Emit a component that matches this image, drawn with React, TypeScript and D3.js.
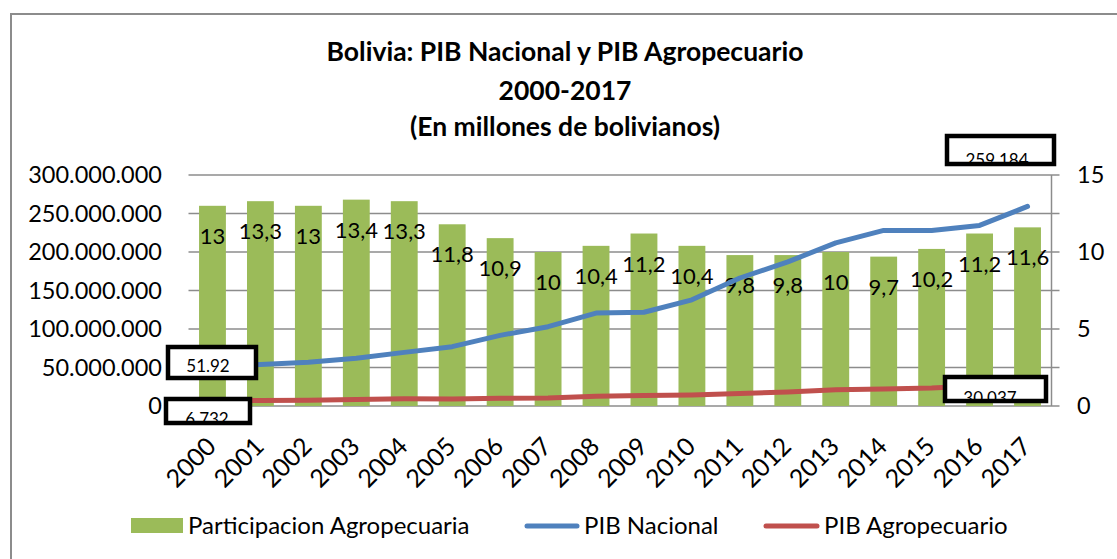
import * as d3 from 'd3';

const years = ['2000', '2001', '2002', '2003', '2004', '2005', '2006', '2007', '2008', '2009', '2010', '2011', '2012', '2013', '2014', '2015', '2016', '2017'];
// participacion agropecuaria, % (right axis)
const participacion = [13, 13.3, 13, 13.4, 13.3, 11.8, 10.9, 10, 10.4, 11.2, 10.4, 9.8, 9.8, 10, 9.7, 10.2, 11.2, 11.6];
// miles de bolivianos (left axis)
const pibNacional = [51928000, 53790000, 56682000, 61904000, 69626000, 77024000, 91748000, 103009000, 120694000, 121727000, 137876000, 166232000, 187154000, 211856000, 228004000, 228031000, 234533000, 259184000];
const pibAgro = [6732000, 7150000, 7370000, 8290000, 9260000, 9090000, 10000000, 10300000, 12550000, 13630000, 14340000, 16290000, 18340000, 21190000, 22120000, 23260000, 26270000, 30037000];
const leftTicks = [0, 50000000, 100000000, 150000000, 200000000, 250000000, 300000000];
const rightTicks = [0, 5, 10, 15];
const titleLines = ['Bolivia: PIB Nacional y PIB Agropecuario', '2000-2017', '(En millones de bolivianos)'];
const calloutLabels = ['51.92', '6.732', '259.184', '30.037'];

const W = 1117;
const H = 559;
const FONT = 'Lato, "Open Sans", sans-serif';
const GREEN = '#9bbb59';
const BLUE = '#4f81bd';
const RED = '#c0504d';
const GRID = '#8c8c8c';

const left = 188.5;
const right = 1051.5;
const top = 175;
const bottom = 406;

const App = () => {
  const x = d3.scaleBand().domain(years).range([left, right]).paddingInner(0.44).paddingOuter(0.22);
  const yL = d3.scaleLinear().domain([0, 300000000]).range([bottom, top]);
  const yR = d3.scaleLinear().domain([0, 15]).range([bottom, top]);
  const cx = (d: string) => x(d)! + x.bandwidth() / 2;

  const fmtLeft = (v: number) => d3.format(',')(v).replace(/,/g, '.');
  const fmtPct = (v: number) => String(v).replace('.', ',');

  const line = (vals: number[]) =>
    d3.line<number>().x((_, i) => cx(years[i])).y((v) => yL(v))(vals) ?? '';

  // callout boxes: [x, y, w, h] of the outer frame, text centre x, baseline
  const callouts = [
    { r: [168, 347, 88, 31], tx: 208, ty: 372 },
    { r: [166, 399, 84, 24], tx: 207, ty: 425 },
    { r: [947, 136, 107, 28], tx: 997, ty: 166 },
    { r: [945, 377, 101, 24], tx: 990, ty: 404 },
  ];

  return (
    <svg width={W} height={H} style={{ position: 'absolute', left: 0, top: 0, background: '#fff' }} fontFamily={FONT}>
      <rect x={11} y={14} width={W + 20} height={H + 20} fill="#fff" stroke={GRID} strokeWidth={2} />

      {titleLines.map((t, i) => (
        <text key={t} x={565} y={[61, 100, 136][i]} textAnchor="middle" fontSize={26.5} fontWeight="bold">
          {t}
        </text>
      ))}

      {/* gridlines */}
      {leftTicks.map((t) => (
        <line key={t} x1={left} x2={right + 8} y1={yL(t)} y2={yL(t)} stroke={GRID} strokeWidth={1.5} />
      ))}
      <line x1={right} x2={right} y1={top} y2={bottom} stroke={GRID} strokeWidth={1.5} />

      {leftTicks.map((t) => (
        <text key={t} x={162} y={yL(t) + 8} textAnchor="end" fontSize={23.5}>
          {fmtLeft(t)}
        </text>
      ))}
      {rightTicks.map((t) => (
        <text key={t} x={1077} y={yR(t) + 8} fontSize={23.5}>
          {t}
        </text>
      ))}

      {/* bars */}
      {participacion.map((v, i) => (
        <rect key={years[i]} x={x(years[i])} y={yR(v)} width={x.bandwidth()} height={yR(0) - yR(v)} fill={GREEN} />
      ))}
      {participacion.map((v, i) => (
        <text key={years[i]} x={cx(years[i])} y={yR(v) + 38} textAnchor="middle" fontSize={22}>
          {fmtPct(v)}
        </text>
      ))}

      <path d={line(pibNacional)} fill="none" stroke={BLUE} strokeWidth={5} strokeLinejoin="round" strokeLinecap="round" />
      <path d={line(pibAgro)} fill="none" stroke={RED} strokeWidth={5} strokeLinejoin="round" strokeLinecap="round" />

      {/* x axis labels */}
      {years.map((d) => (
        <text key={d} transform={`translate(${cx(d) + 5},${bottom + 42}) rotate(-45)`} textAnchor="end" fontSize={25}>
          {d}
        </text>
      ))}

      {/* callouts */}
      <defs>
        {callouts.map((c, i) => (
          <clipPath key={i} id={`clip${i}`}>
            <rect x={c.r[0]} y={c.r[1]} width={c.r[2]} height={c.r[3]} />
          </clipPath>
        ))}
      </defs>
      {callouts.map((c, i) => (
        <g key={i}>
          <rect x={c.r[0]} y={c.r[1]} width={c.r[2]} height={c.r[3]} fill="#fff" />
          <text x={c.tx} y={c.ty} textAnchor="middle" fontSize={17} clipPath={`url(#clip${i})`}>
            {calloutLabels[i]}
          </text>
          <rect x={c.r[0]} y={c.r[1]} width={c.r[2]} height={c.r[3]} fill="none" stroke="#000" strokeWidth={4.5} />
        </g>
      ))}

      {/* legend */}
      <rect x={131} y={518} width={52} height={15} fill={GREEN} />
      <text x={188} y={534} fontSize={24}>Participacion Agropecuaria</text>
      <line x1={527} x2={577} y1={526} y2={526} stroke={BLUE} strokeWidth={5} strokeLinecap="round" />
      <text x={584} y={534} fontSize={24}>PIB Nacional</text>
      <line x1={766} x2={817} y1={526} y2={526} stroke={RED} strokeWidth={5} strokeLinecap="round" />
      <text x={824} y={534} fontSize={24}>PIB Agropecuario</text>
    </svg>
  );
};

export default App;
